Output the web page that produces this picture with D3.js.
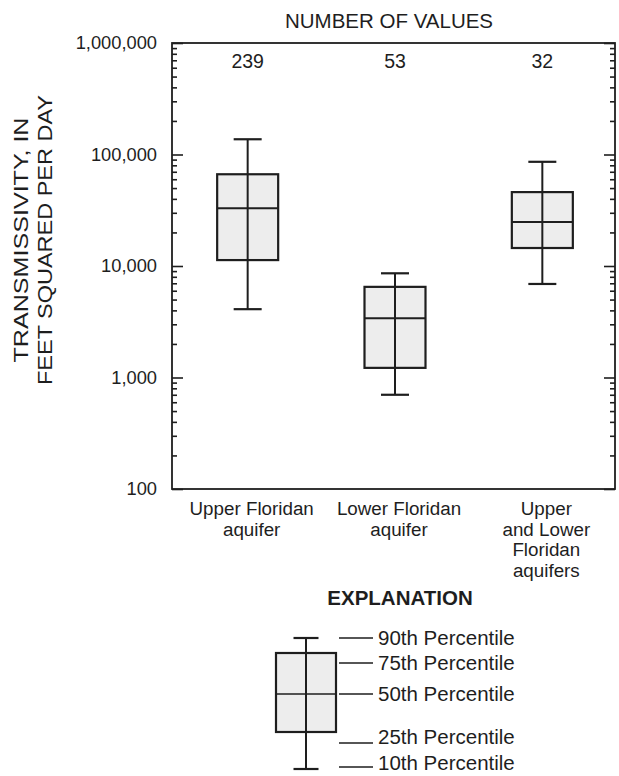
<!DOCTYPE html>
<html>
<head>
<meta charset="utf-8">
<script src="https://cdn.jsdelivr.net/npm/d3@7/dist/d3.min.js"></script>
<style>
  body { margin: 0; background: #fff; }
  svg { font-family: "Liberation Sans", Arial, sans-serif; }
</style>
</head>
<body>
<svg id="chart" width="619" height="776"></svg>
<script>
// categories and summary stats
const categories = ['Upper Floridan aquifer', 'Lower Floridan aquifer', 'Upper and Lower Floridan aquifers'];
const categoryLines = [['Upper Floridan', 'aquifer'], ['Lower Floridan', 'aquifer'], ['Upper', 'and Lower', 'Floridan', 'aquifers']];
const counts = [239, 53, 32];
const p10 = [4100, 700, 6900];
const p25 = [11300, 1220, 14500];
const p50 = [33000, 3400, 24800];
const p75 = [66500, 6500, 46000];
const p90 = [137000, 8600, 86000];
const yTicks = [100, 1000, 10000, 100000, 1000000];
const legendLabels = ['90th Percentile', '75th Percentile', '50th Percentile', '25th Percentile', '10th Percentile'];

(function() {
const svg = d3.select('#chart');
const mLeft = 172, mRight = 615, mTop = 43, mBottom = 489;
const ink = '#1e1e1e';

const x = d3.scaleBand().domain(categories).range([mLeft + 2, mRight + 1]).padding(0);
const y = d3.scaleLog().domain([100, 1000000]).range([mBottom, mTop]);

// frame
svg.append('rect')
    .attr('x', mLeft).attr('y', mTop)
    .attr('width', mRight - mLeft).attr('height', mBottom - mTop)
    .attr('fill', 'none').attr('stroke', ink).attr('stroke-width', 1.8);

// minor and major ticks, both sides, pointing inward
const minorTicks = y.ticks().filter(v => !yTicks.includes(v));
function tickAxis(axisFn, xpos, values, size) {
    const g = svg.append('g')
        .attr('transform', `translate(${xpos},0)`)
        .call(axisFn(y).tickValues(values).tickSize(size).tickFormat(''));
    g.select('.domain').remove();
    g.selectAll('line').attr('stroke', ink).attr('stroke-width', 1.6);
}
tickAxis(d3.axisRight, mLeft, minorTicks, 5);
tickAxis(d3.axisRight, mLeft, yTicks, 11);
tickAxis(d3.axisLeft, mRight, minorTicks, 5);
tickAxis(d3.axisLeft, mRight, yTicks, 11);

// y tick labels
const yLab = svg.append('g')
    .attr('transform', `translate(${mLeft},0)`)
    .call(d3.axisLeft(y).tickValues(yTicks).tickSize(0).tickPadding(15).tickFormat(d3.format(',')));
yLab.select('.domain').remove();
yLab.selectAll('text').attr('font-size', 18.3).attr('fill', ink).attr('font-family', '"Liberation Sans", Arial, sans-serif');

// y axis title
const yTitle = svg.append('text')
    .attr('transform', 'translate(0,240) rotate(-90)')
    .attr('text-anchor', 'middle')
    .attr('font-size', 21).attr('fill', ink);
yTitle.append('tspan').attr('x', 0).attr('y', 28).attr('textLength', 245).attr('lengthAdjust', 'spacingAndGlyphs').text('TRANSMISSIVITY, IN');
yTitle.append('tspan').attr('x', 0).attr('y', 52).attr('textLength', 290).attr('lengthAdjust', 'spacingAndGlyphs').text('FEET SQUARED PER DAY');

// top title and counts
svg.append('text')
    .attr('x', 389).attr('y', 28)
    .attr('text-anchor', 'middle').attr('font-size', 20.5).attr('fill', ink)
    .text('NUMBER OF VALUES');

const boxW = 61, capW = 28;
const cx = d => x(d) + x.bandwidth() / 2;

svg.selectAll('.count')
    .data(categories)
    .enter().append('text')
    .attr('x', cx).attr('y', 68)
    .attr('text-anchor', 'middle').attr('font-size', 19.5).attr('fill', ink)
    .text((d, i) => counts[i]);

// boxes
const boxes = svg.selectAll('.box')
    .data(categories)
    .enter().append('g');

boxes.append('rect')
    .attr('x', d => cx(d) - boxW / 2)
    .attr('y', (d, i) => y(p75[i]))
    .attr('width', boxW)
    .attr('height', (d, i) => y(p25[i]) - y(p75[i]))
    .attr('fill', '#ededed').attr('stroke', ink).attr('stroke-width', 2.2);

boxes.append('line')
    .attr('x1', cx).attr('x2', cx)
    .attr('y1', (d, i) => y(p90[i]))
    .attr('y2', (d, i) => y(p10[i]))
    .attr('stroke', ink).attr('stroke-width', 2);

boxes.append('line')
    .attr('x1', d => cx(d) - boxW / 2).attr('x2', d => cx(d) + boxW / 2)
    .attr('y1', (d, i) => y(p50[i])).attr('y2', (d, i) => y(p50[i]))
    .attr('stroke', ink).attr('stroke-width', 2);

[p90, p10].forEach(arr => {
    boxes.append('line')
        .attr('x1', d => cx(d) - capW / 2).attr('x2', d => cx(d) + capW / 2)
        .attr('y1', (d, i) => y(arr[i])).attr('y2', (d, i) => y(arr[i]))
        .attr('stroke', ink).attr('stroke-width', 2.2);
});

// category labels
svg.selectAll('.cat')
    .data(categories)
    .enter().append('text')
    .attr('text-anchor', 'middle').attr('font-size', 18.8).attr('fill', ink)
    .each(function(d, i) {
        const t = d3.select(this);
        categoryLines[i].forEach((line, k) => {
            t.append('tspan').attr('x', cx(d) + 4).attr('y', 515 + k * 20.5).text(line);
        });
    });

// explanation
svg.append('text')
    .attr('x', 400).attr('y', 605)
    .attr('text-anchor', 'middle').attr('font-size', 20.5).attr('font-weight', 'bold').attr('fill', ink)
    .text('EXPLANATION');

const lg = svg.append('g');
const lx = 306, lBoxW = 60, lCap = 25;
const ly = { p90: 638, p75: 653, p50: 694, p25: 732, p10: 769 };
lg.append('rect')
    .attr('x', lx - lBoxW / 2).attr('y', ly.p75)
    .attr('width', lBoxW).attr('height', ly.p25 - ly.p75)
    .attr('fill', '#ededed').attr('stroke', ink).attr('stroke-width', 2.2);
lg.append('line').attr('x1', lx).attr('x2', lx).attr('y1', ly.p90).attr('y2', ly.p10)
    .attr('stroke', ink).attr('stroke-width', 2);
lg.append('line').attr('x1', lx - lBoxW / 2).attr('x2', lx + lBoxW / 2).attr('y1', ly.p50).attr('y2', ly.p50)
    .attr('stroke', ink).attr('stroke-width', 1.6);
[ly.p90, ly.p10].forEach(v => {
    lg.append('line').attr('x1', lx - lCap / 2).attr('x2', lx + lCap / 2).attr('y1', v).attr('y2', v)
        .attr('stroke', ink).attr('stroke-width', 2.2);
});

const leaderY = [638, 663, 694, 743, 767];
const labelY = [638, 663, 694, 737, 763];
legendLabels.forEach((lab, i) => {
    lg.append('line').attr('x1', 339).attr('x2', 373).attr('y1', leaderY[i]).attr('y2', leaderY[i])
        .attr('stroke', ink).attr('stroke-width', 1.5);
    lg.append('text').attr('x', 378).attr('y', labelY[i]).attr('dy', '0.36em')
        .attr('font-size', 20.5).attr('fill', ink).text(lab);
});
})();
</script>
</body>
</html>
